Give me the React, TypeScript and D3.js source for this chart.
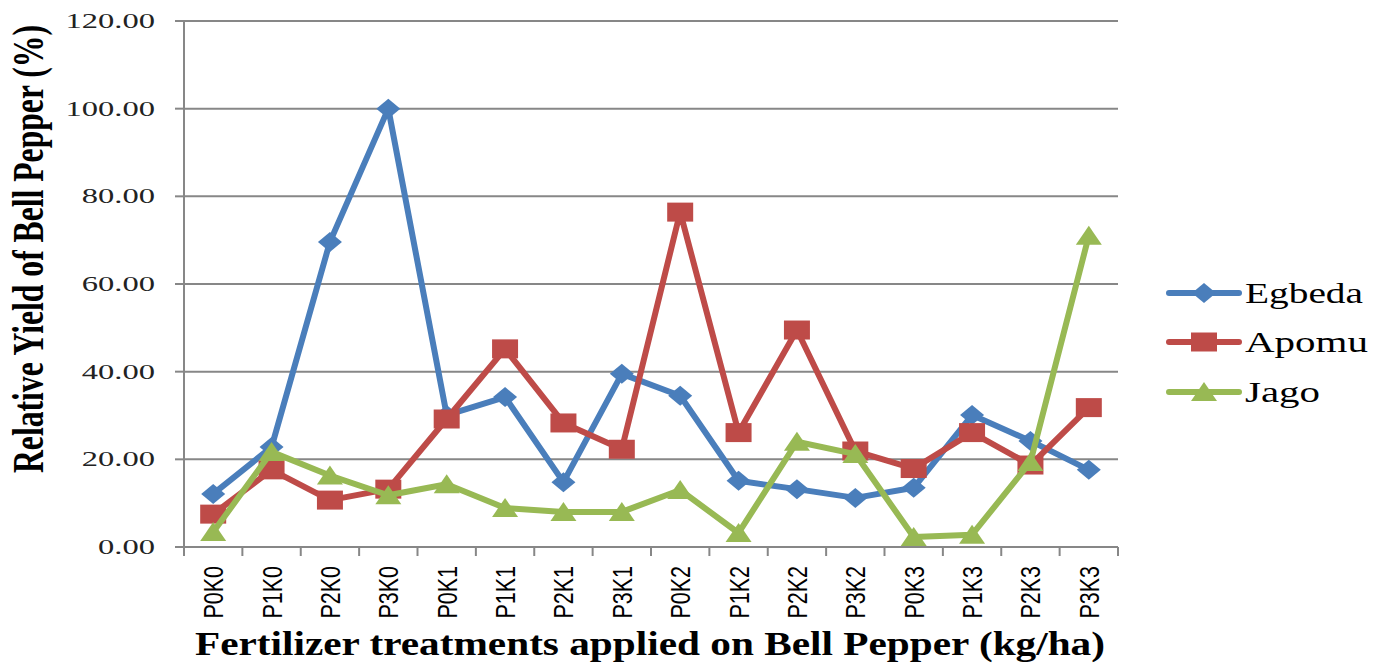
import React from "react";
import * as d3 from "d3";

const categories = ["P0K0","P1K0","P2K0","P3K0","P0K1","P1K1","P2K1","P3K1","P0K2","P1K2","P2K2","P3K2","P0K3","P1K3","P2K3","P3K3"];
const egbeda = [12.1, 22.8, 69.6, 100.0, 30.1, 34.2, 14.8, 39.5, 34.5, 15.1, 13.2, 11.2, 13.5, 30.1, 24.2, 17.6];
const apomu = [7.5, 17.6, 10.7, 13.2, 29.2, 45.2, 28.3, 22.3, 76.4, 26.1, 49.5, 21.9, 17.9, 26.1, 18.7, 31.8];
const jago = [3.4, 21.7, 16.3, 11.8, 14.3, 8.9, 8.0, 8.0, 13.0, 3.2, 24.0, 21.2, 2.3, 2.8, 19.4, 71.0];
const yTicks = [0, 20, 40, 60, 80, 100, 120];

const seriesList = [
  { name: "Egbeda", values: egbeda, color: "#4A7EBB", marker: "diamond" },
  { name: "Apomu", values: apomu, color: "#BE4B48", marker: "square" },
  { name: "Jago", values: jago, color: "#98B954", marker: "triangle" },
];

const left = 184, right = 1118, top = 21, bottom = 547;

function markerPath(type: string) {
  if (type === "diamond") return "M-12,0L0,-10L12,0L0,10Z";
  if (type === "square") return "M-13,-9.5L13,-9.5L13,9.5L-13,9.5Z";
  return "M0,-10L13,9L-13,9Z";
}

export default function App() {
  const x = d3.scaleBand<string>().domain(categories).range([left, right]);
  const y = d3.scaleLinear().domain([0, 120]).range([bottom, top]);
  const cx = (c: string) => (x(c) as number) + x.bandwidth() / 2;
  const line = d3.line<number>().x((_, i) => cx(categories[i])).y((v) => y(v));
  const grid = "#878787";
  const legendY = [293, 342, 392];
  const legendLen = [118, 123, 75];
  return (
    <svg width={1387} height={664} style={{ position: "absolute", left: 0, top: 0, background: "#fff" }}>
      {yTicks.map((t) => (
        <g key={t}>
          {t > 0 && <line x1={left} x2={right} y1={y(t)} y2={y(t)} stroke={grid} strokeWidth={2} />}
          <line x1={175} x2={left} y1={y(t)} y2={y(t)} stroke={grid} strokeWidth={2} />
          <text transform={`translate(155,${y(t) + 7}) scale(1.55,1)`} textAnchor="end" fontFamily="Liberation Serif" fontSize={21} fill="#222">
            {t.toFixed(2)}
          </text>
        </g>
      ))}
      <line x1={left} x2={left} y1={top} y2={bottom} stroke={grid} strokeWidth={2} />
      <line x1={175} x2={right} y1={bottom} y2={bottom} stroke={grid} strokeWidth={2} />
      {categories.concat(["end"]).map((c, i) => {
        const xx = left + i * x.bandwidth();
        return <line key={"t" + i} x1={xx} x2={xx} y1={bottom} y2={bottom + 9} stroke={grid} strokeWidth={2} />;
      })}
      {categories.map((c) => (
        <text key={c} transform={`translate(${cx(c) + 10},566) scale(1.3,1) rotate(-90)`} textAnchor="end" fontFamily="Liberation Sans" fontSize={21.5} fill="#000">
          {c}
        </text>
      ))}
      {seriesList.map((s) => (
        <g key={s.name}>
          <path d={line(s.values) || ""} fill="none" stroke={s.color} strokeWidth={6} strokeLinejoin="round" strokeLinecap="round" />
          {s.values.map((v, i) => (
            <path key={i} d={markerPath(s.marker)} transform={`translate(${cx(categories[i])},${y(v)})`} fill={s.color} />
          ))}
        </g>
      ))}
      {seriesList.map((s, i) => (
        <g key={"l" + s.name}>
          <line x1={1169} x2={1239} y1={legendY[i]} y2={legendY[i]} stroke={s.color} strokeWidth={6} strokeLinecap="round" />
          <path d={markerPath(s.marker)} transform={`translate(1204,${legendY[i]})`} fill={s.color} />
          <text x={1245} y={legendY[i] + 10} fontFamily="Liberation Serif" fontSize={30} textLength={legendLen[i]} lengthAdjust="spacingAndGlyphs" fill="#000">
            {s.name}
          </text>
        </g>
      ))}
      <text transform="translate(43,249) scale(1.45,1) rotate(-90)" textAnchor="middle" fontFamily="Liberation Serif" fontWeight="bold" fontSize={30} textLength={448} lengthAdjust="spacingAndGlyphs" fill="#000">
        Relative Yield of Bell Pepper (%)
      </text>
      <text x={650} y={655} textAnchor="middle" fontFamily="Liberation Serif" fontWeight="bold" fontSize={34} textLength={910} lengthAdjust="spacingAndGlyphs" fill="#000">
        Fertilizer treatments applied on Bell Pepper (kg/ha)
      </text>
    </svg>
  );
}
